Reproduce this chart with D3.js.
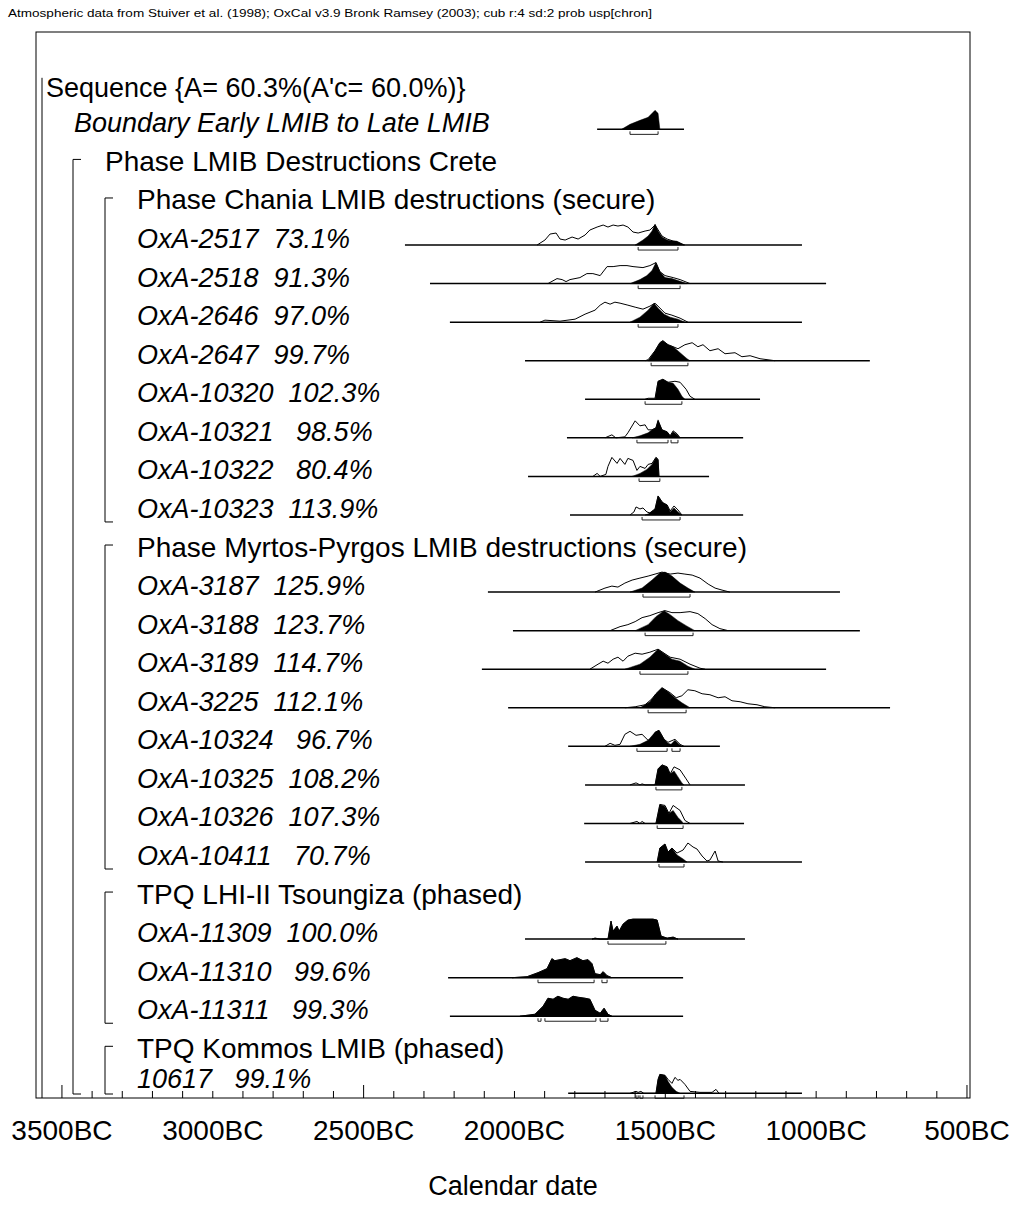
<!DOCTYPE html>
<html>
<head>
<meta charset="utf-8">
<script src="https://cdn.jsdelivr.net/npm/d3@7"></script>
<style>
  body { margin: 0; background: #fff; }
  text { font-family: "Liberation Sans", Arial, sans-serif; fill: #000; }
</style>
</head>
<body>
<div id="chart"></div>
<script>
var header = "Atmospheric data from Stuiver et al. (1998); OxCal v3.9 Bronk Ramsey (2003); cub r:4 sd:2 prob usp[chron]";
var axisTitle = "Calendar date";
var tickYears = [3500, 3000, 2500, 2000, 1500, 1000, 500];

// row labels and their kind, top to bottom
var rowLabels = [
  "Sequence {A= 60.3%(A'c= 60.0%)}",
  "Boundary Early LMIB to Late LMIB",
  "Phase LMIB Destructions Crete",
  "Phase Chania LMIB destructions (secure)",
  "OxA-2517  73.1%", "OxA-2518  91.3%", "OxA-2646  97.0%", "OxA-2647  99.7%",
  "OxA-10320  102.3%", "OxA-10321   98.5%", "OxA-10322   80.4%", "OxA-10323  113.9%",
  "Phase Myrtos-Pyrgos LMIB destructions (secure)",
  "OxA-3187  125.9%", "OxA-3188  123.7%", "OxA-3189  114.7%", "OxA-3225  112.1%",
  "OxA-10324   96.7%", "OxA-10325  108.2%", "OxA-10326  107.3%", "OxA-10411   70.7%",
  "TPQ LHI-II Tsoungiza (phased)",
  "OxA-11309  100.0%", "OxA-11310   99.6%", "OxA-11311   99.3%",
  "TPQ Kommos LMIB (phased)",
  "10617   99.1%"
];
var rowKinds = ["sequence", "boundary", "phase", "sub", "date", "date", "date", "date", "date", "date", "date", "date",
  "sub", "date", "date", "date", "date", "date", "date", "date", "date",
  "sub", "date", "date", "date", "sub", "date"];

// nested groups: [first row, last row, depth]
var groups = [[2, 26, 1], [3, 11, 2], [12, 20, 2], [21, 24, 2], [25, 26, 2]];

// extent of the plotted calibration range per row (years BC), null = no plot
var plotExtent = [null, [1726, 1438], null, null,
  [2363, 1047], [2280, 967], [2214, 1047], [1965, 822], [1766, 1186], [1826, 1242], [1955, 1355], [1816, 1242],
  null, [2088, 921], [2005, 855], [2108, 967], [2021, 755], [1822, 1319], [1766, 1236], [1769, 1239], [1766, 1047],
  null, [1965, 1236], [2220, 1441], [2214, 1441], null, [1822, 1047]];

// unmodelled (outline) distributions: [year BC, relative probability]
var likelihoods = [null, null, null, null,
  [[1925,0],[1899,5],[1882,11],[1862,12],[1849,6],[1832,5],[1809,8],[1789,6],[1766,10],[1750,15],[1726,18],[1706,20],[1690,18],[1673,20],[1657,19],[1640,20],[1624,18],[1607,13],[1590,12],[1567,14],[1551,15],[1534,20],[1511,9],[1494,6],[1474,4],[1458,3],[1438,0]],
  [[1889,0],[1859,5],[1842,4],[1829,2],[1816,4],[1783,6],[1760,10],[1740,10],[1716,8],[1693,17],[1673,17],[1650,18],[1627,18],[1607,17],[1574,16],[1551,18],[1531,21],[1518,12],[1501,8],[1474,6],[1451,4],[1418,0]],
  [[1915,0],[1899,2],[1849,1],[1799,3],[1766,8],[1733,12],[1716,17],[1700,20],[1683,18],[1667,20],[1650,19],[1624,17],[1600,15],[1574,13],[1551,16],[1534,19],[1501,9],[1478,7],[1451,4],[1425,0]],
  [[1567,0],[1557,1],[1534,10],[1518,18],[1508,20],[1491,16],[1474,14],[1458,12],[1435,16],[1411,18],[1392,14],[1375,16],[1352,10],[1325,12],[1302,7],[1269,8],[1246,4],[1219,5],[1186,2],[1136,0]],
  [[1567,0],[1557,1],[1534,1],[1524,18],[1508,20],[1491,17],[1468,18],[1451,17],[1431,10],[1418,3],[1402,0]],
  [[1700,0],[1677,3],[1664,0],[1634,1],[1624,5],[1600,17],[1584,12],[1567,13],[1557,8],[1544,8],[1531,10],[1524,17],[1511,8],[1494,6],[1484,2],[1474,7],[1461,4],[1451,0]],
  [[1740,0],[1726,3],[1716,0],[1697,2],[1690,10],[1677,19],[1660,13],[1650,18],[1634,12],[1624,18],[1607,16],[1594,6],[1584,10],[1567,8],[1557,12],[1544,13],[1531,19],[1524,17],[1521,0]],
  [[1617,0],[1604,3],[1597,8],[1584,6],[1574,7],[1561,3],[1551,2],[1534,6],[1524,19],[1508,12],[1494,10],[1484,4],[1471,9],[1458,5],[1445,0]],
  null,
  [[1733,0],[1700,4],[1677,6],[1657,5],[1634,9],[1610,12],[1584,14],[1557,16],[1534,18],[1511,20],[1484,18],[1458,19],[1435,18],[1411,17],[1385,14],[1358,8],[1335,4],[1312,2],[1286,0]],
  [[1683,0],[1650,4],[1624,6],[1600,9],[1577,13],[1551,15],[1524,18],[1501,20],[1478,18],[1451,18],[1418,19],[1392,17],[1368,12],[1345,6],[1319,2],[1292,0]],
  [[1750,0],[1723,5],[1706,8],[1690,6],[1673,10],[1657,12],[1640,8],[1624,13],[1600,16],[1577,15],[1551,17],[1524,20],[1484,12],[1451,10],[1418,5],[1385,1],[1368,0]],
  [[1634,0],[1600,1],[1567,3],[1544,9],[1531,14],[1511,20],[1484,15],[1464,10],[1445,12],[1425,18],[1402,17],[1378,14],[1352,13],[1325,10],[1302,11],[1279,7],[1252,6],[1226,4],[1196,3],[1170,1],[1136,0]],
  [[1700,0],[1683,3],[1667,1],[1650,2],[1634,12],[1617,15],[1597,11],[1577,12],[1557,6],[1544,8],[1534,14],[1521,16],[1504,7],[1491,4],[1468,7],[1451,2],[1438,0]],
  [[1617,0],[1597,2],[1584,0],[1577,1],[1567,0],[1534,0],[1524,16],[1511,20],[1494,18],[1484,11],[1471,18],[1451,15],[1431,6],[1418,0]],
  [[1617,0],[1594,2],[1584,0],[1577,2],[1567,0],[1531,0],[1518,19],[1501,18],[1488,10],[1474,18],[1451,13],[1435,3],[1418,0]],
  [[1527,0],[1518,14],[1501,18],[1491,10],[1478,14],[1461,9],[1441,12],[1425,19],[1408,15],[1395,13],[1378,6],[1362,1],[1352,2],[1335,11],[1325,1],[1309,0]],
  null,
  [[1743,0],[1733,1],[1716,0],[1690,0],[1680,18],[1673,8],[1660,13],[1653,8],[1640,15],[1624,19],[1607,20],[1584,20],[1561,20],[1541,20],[1527,19],[1514,3],[1494,1],[1474,2],[1458,0]],
  [[2008,0],[1958,1],[1922,5],[1892,9],[1876,19],[1866,17],[1849,18],[1832,19],[1816,17],[1793,20],[1773,17],[1756,18],[1743,14],[1733,4],[1716,3],[1706,6],[1693,2],[1677,0]],
  [[1982,0],[1932,2],[1905,10],[1889,18],[1872,17],[1856,20],[1839,18],[1822,17],[1806,20],[1789,19],[1766,18],[1750,17],[1733,6],[1716,3],[1703,8],[1690,2],[1677,0]],
  null,
  [[1617,0],[1597,2],[1590,1],[1581,2],[1571,0],[1531,0],[1524,14],[1518,19],[1501,18],[1491,14],[1478,10],[1468,16],[1458,13],[1451,14],[1435,9],[1418,2],[1385,1],[1345,1],[1332,4],[1322,0]]
];

// modelled (filled) distributions: [year BC, relative probability]
var posteriors = [null,
  [[1645,0],[1617,5],[1584,9],[1557,12],[1534,19],[1524,16],[1518,0]],
  null, null,
  [[1600,0],[1574,5],[1557,9],[1544,14],[1534,21],[1524,14],[1511,8],[1494,5],[1478,4],[1464,4],[1451,2],[1435,0]],
  [[1617,0],[1584,4],[1561,8],[1544,13],[1531,21],[1518,12],[1501,6],[1478,5],[1458,3],[1428,0]],
  [[1617,0],[1584,5],[1557,12],[1537,19],[1524,14],[1504,8],[1484,5],[1458,3],[1435,0]],
  [[1557,0],[1534,10],[1518,18],[1508,20],[1491,16],[1474,14],[1451,8],[1428,2],[1418,0]],
  [[1534,0],[1524,18],[1508,20],[1491,17],[1474,16],[1458,10],[1445,3],[1435,0]],
  [[1610,0],[1584,2],[1557,5],[1544,8],[1531,10],[1524,18],[1511,8],[1494,6],[1484,2],[1474,6],[1461,3],[1451,0]],
  [[1610,0],[1584,3],[1561,7],[1544,12],[1531,19],[1524,17],[1521,0]],
  [[1567,0],[1557,1],[1534,6],[1524,19],[1511,13],[1494,10],[1484,3],[1471,7],[1458,3],[1445,0]],
  null,
  [[1617,0],[1577,4],[1544,12],[1518,19],[1501,20],[1478,16],[1451,9],[1425,4],[1402,0]],
  [[1600,0],[1557,6],[1531,14],[1504,20],[1484,16],[1458,10],[1431,5],[1402,0]],
  [[1634,0],[1584,5],[1551,12],[1524,20],[1501,15],[1478,10],[1451,8],[1425,3],[1402,0]],
  [[1584,0],[1551,6],[1531,14],[1511,20],[1491,16],[1468,10],[1445,5],[1418,0]],
  [[1617,0],[1584,2],[1557,6],[1534,14],[1521,16],[1504,7],[1491,3],[1481,2],[1468,6],[1455,2],[1445,0]],
  [[1534,0],[1524,16],[1511,20],[1494,18],[1484,11],[1471,14],[1458,8],[1445,2],[1438,0]],
  [[1531,0],[1518,19],[1501,17],[1488,10],[1474,13],[1458,6],[1445,2],[1441,0]],
  [[1527,0],[1518,14],[1501,18],[1491,10],[1478,14],[1461,7],[1441,3],[1428,0]],
  null,
  [[1743,0],[1733,1],[1716,0],[1690,0],[1680,18],[1673,8],[1660,13],[1653,8],[1640,15],[1624,19],[1607,20],[1584,20],[1561,20],[1541,20],[1527,19],[1514,3],[1494,1],[1474,2],[1458,0]],
  [[2008,0],[1958,1],[1922,5],[1892,9],[1876,19],[1866,17],[1849,18],[1832,19],[1816,17],[1793,20],[1773,17],[1756,18],[1743,14],[1733,4],[1716,3],[1706,6],[1693,2],[1677,0]],
  [[1982,0],[1932,2],[1905,10],[1889,18],[1872,17],[1856,20],[1839,18],[1822,17],[1806,20],[1789,19],[1766,18],[1750,17],[1733,6],[1716,3],[1703,8],[1690,2],[1677,0]],
  null,
  [[1531,0],[1524,14],[1518,19],[1501,18],[1491,12],[1478,6],[1464,2],[1451,0]]
];

// 95.4% ranges under each plot
var ranges = [null, [[1617, 1524]], null, null,
  [[1590, 1458]], [[1590, 1451]], [[1590, 1458]], [[1547, 1425]],
  [[1567, 1445]], [[1594, 1491], [1481, 1458]], [[1587, 1518]], [[1577, 1451]],
  null, [[1574, 1418]], [[1567, 1408]], [[1584, 1425]], [[1557, 1431]],
  [[1594, 1494], [1478, 1451]], [[1531, 1445]], [[1527, 1441]], [[1521, 1438]],
  null, [[1690, 1498]], [[1922, 1736], [1710, 1693]], [[1922, 1912], [1899, 1730], [1716, 1690]],
  null, [[1597, 1590], [1584, 1574], [1534, 1438]]];

function init() {
    var w = 1013, h = 1205;
    var left = 36, right = 970, top = 32, bottom = 1098;

    var svg = d3.select("#chart").append("svg")
        .attr("width", w)
        .attr("height", h);

    var x = d3.scaleLinear().domain([3586, 490]).range([left, right]);
    var rowY = d3.scaleLinear().domain([0, 26]).range([90.8, 90.8 + 26 * 38.56]); // plot baseline of each row
    var hy = d3.scaleLinear().domain([0, 20]).range([0, 20]);

    // header line
    svg.append("text")
        .attr("x", 8).attr("y", 17)
        .attr("textLength", 644).attr("lengthAdjust", "spacingAndGlyphs")
        .style("font-size", "11px")
        .text(header);

    // frame
    svg.append("rect")
        .attr("x", left).attr("y", top)
        .attr("width", right - left).attr("height", bottom - top)
        .attr("fill", "none").attr("stroke", "#000").attr("stroke-width", 1);

    // ticks every 100 years, pointing up into the plot
    var minor = d3.range(500, 3501, 100);
    svg.append("g").selectAll("line")
        .data(minor)
        .enter().append("line")
        .attr("x1", function(d) { return x(d); })
        .attr("x2", function(d) { return x(d); })
        .attr("y1", bottom)
        .attr("y2", function(d) { return d % 1000 === 500 ? bottom - 13 : bottom - 7; })
        .attr("stroke", "#000");

    svg.append("g").selectAll("text")
        .data(tickYears)
        .enter().append("text")
        .attr("x", function(d) { return x(d); })
        .attr("y", bottom + 42)
        .attr("text-anchor", "middle")
        .style("font-size", "28px")
        .text(function(d) { return d + "BC"; });

    svg.append("text")
        .attr("x", (left + right) / 2 + 10)
        .attr("y", bottom + 97)
        .attr("text-anchor", "middle")
        .style("font-size", "27px")
        .text(axisTitle);

    // sequence line
    svg.append("line")
        .attr("x1", 42).attr("x2", 42)
        .attr("y1", rowY(0) - 13).attr("y2", bottom)
        .attr("stroke", "#000");

    // phase brackets
    var bx = [42, 73, 105];
    groups.forEach(function(g) {
        var xx = bx[g[2]];
        var y1 = rowY(g[0]) - 8.5;
        var y2 = Math.min(rowY(g[1]) + 7, bottom - 4);
        svg.append("path")
            .attr("d", "M" + (xx + 8) + "," + y1 + "H" + xx + "V" + y2 + "H" + (xx + 8))
            .attr("fill", "none").attr("stroke", "#000");
    });

    // row labels
    var textX = { sequence: 46, boundary: 74, phase: 105, sub: 137, date: 137 };
    var textSize = { sequence: 27, boundary: 27, phase: 28, sub: 28, date: 27 };
    svg.append("g").selectAll("text")
        .data(rowLabels)
        .enter().append("text")
        .attr("x", function(d, i) { return textX[rowKinds[i]]; })
        .attr("y", function(d, i) { return Math.min(rowY(i) + (i === 0 ? 6 : 3), bottom - 10); })
        .style("font-size", function(d, i) { return textSize[rowKinds[i]] + "px"; })
        .style("white-space", "pre")
        .style("font-style", function(d, i) { return (rowKinds[i] === "date" || rowKinds[i] === "boundary") ? "italic" : "normal"; })
        .text(function(d) { return d; });

    // distributions
    rowLabels.forEach(function(label, i) {
        if (!plotExtent[i]) return;
        var base = rowY(i);
        var area = d3.area()
            .x(function(d) { return x(d[0]); })
            .y0(base)
            .y1(function(d) { return base - hy(d[1]); });
        var line = d3.line()
            .x(function(d) { return x(d[0]); })
            .y(function(d) { return base - hy(d[1]); });

        if (posteriors[i]) {
            svg.append("path").datum(posteriors[i])
                .attr("d", area)
                .attr("fill", "#000").attr("stroke", "#000").attr("stroke-width", 0.5);
        }
        if (likelihoods[i]) {
            svg.append("path").datum(likelihoods[i])
                .attr("d", line)
                .attr("fill", "none").attr("stroke", "#000").attr("stroke-width", 1);
        }
        // baseline
        svg.append("line")
            .attr("x1", x(plotExtent[i][0])).attr("x2", x(plotExtent[i][1]))
            .attr("y1", base).attr("y2", base)
            .attr("stroke", "#000").attr("stroke-width", 1.5);
        // ranges
        (ranges[i] || []).forEach(function(r) {
            svg.append("path")
                .attr("d", "M" + x(r[0]) + "," + (base + 2) + "V" + (base + 5) + "H" + x(r[1]) + "V" + (base + 2))
                .attr("fill", "none").attr("stroke", "#222").attr("stroke-width", 1);
        });
    });
}

window.onload = init;
</script>
</body>
</html>
